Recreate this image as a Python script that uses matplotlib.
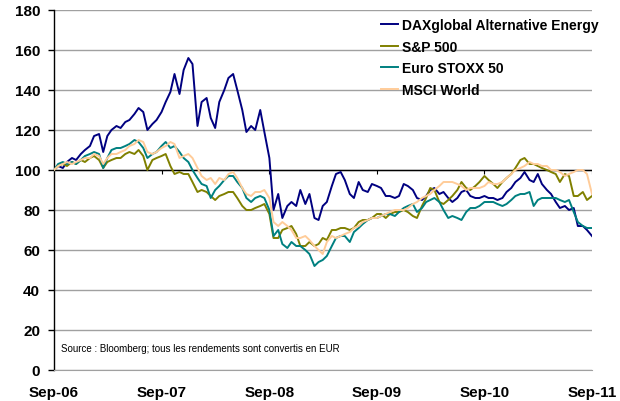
import matplotlib
matplotlib.use("Agg")
import matplotlib.pyplot as plt
import matplotlib.dates as mdates
import pandas as pd

plt.rcParams["font.family"] = ["Liberation Sans", "DejaVu Sans"]

# half-monthly index values (base 100, Sep-06)
dates = pd.date_range("2006-09-01", "2011-09-01", freq="SMS")

dax = [
    100, 102, 101, 104, 106, 105, 108, 110, 112, 117, 118, 109, 117, 120, 122, 121,
    124, 125, 128, 131, 129, 120, 123, 125, 129, 134, 139, 148, 138, 150, 156, 153,
    122, 134, 136, 126, 121, 134, 140, 146, 148, 140, 130, 119, 122, 120, 130, 119,
    106, 80, 88, 76, 82, 84, 82, 90, 83, 88, 76, 75, 82, 84, 92, 98,
    99, 95, 88, 86, 94, 90, 89, 93, 92, 91, 87, 87, 86, 87, 93, 92,
    90, 86, 85, 87, 90, 91, 88, 89, 86, 84, 86, 89, 90, 87, 86, 86,
    87, 86, 86, 85, 86, 89, 91, 94, 96, 99, 95, 94, 98, 93, 90, 88,
    84, 81, 82, 80, 81, 72, 72, 70, 67,
]
spx = [
    100, 102, 103, 102, 104, 103, 105, 104, 106, 107, 105, 101, 104, 105, 106, 106,
    108, 109, 108, 110, 107, 100, 105, 106, 107, 108, 102, 98, 99, 98, 98, 94,
    89, 90, 89, 87, 85, 87, 88, 89, 89, 86, 82, 80, 80, 81, 82, 83,
    78, 66, 66, 70, 71, 72, 68, 62, 62, 64, 62, 63, 66, 65, 70, 70,
    71, 71, 70, 71, 74, 75, 75, 76, 78, 78, 76, 78, 79, 79, 80, 79,
    77, 76, 82, 86, 91, 90, 84, 83, 85, 87, 90, 94, 91, 90, 92, 94,
    97, 95, 93, 91, 94, 96, 98, 101, 105, 106, 103, 103, 102, 101, 100, 99,
    98, 94, 98, 97, 87, 87, 89, 85, 87,
]
stoxx = [
    100, 103, 104, 103, 104, 103, 105, 107, 108, 109, 108, 101, 106, 110, 111, 111,
    112, 113, 115, 114, 111, 106, 108, 109, 112, 114, 111, 112, 109, 106, 104, 100,
    96, 93, 92, 86, 90, 92, 95, 97, 97, 94, 91, 86, 84, 86, 87, 86,
    80, 67, 70, 63, 61, 64, 62, 62, 60, 58, 52, 54, 55, 57, 62, 66,
    67, 67, 64, 69, 71, 73, 75, 76, 76, 77, 78, 78, 77, 79, 81, 82,
    83, 79, 81, 84, 85, 86, 84, 80, 76, 77, 76, 75, 79, 81, 81, 82,
    84, 84, 84, 83, 82, 83, 85, 87, 88, 88, 89, 82, 85, 86, 86, 86,
    86, 85, 84, 85, 79, 74, 72, 71, 71,
]
msci = [
    100, 102, 103, 104, 103, 104, 105, 106, 106, 108, 107, 103, 106, 108, 108, 109,
    110, 112, 113, 115, 114, 109, 108, 109, 111, 112, 114, 113, 106, 107, 108, 106,
    101, 97, 95, 96, 93, 96, 95, 98, 99, 96, 91, 88, 87, 89, 89, 90,
    86, 74, 72, 74, 72, 70, 66, 66, 67, 65, 62, 60, 58, 64, 67, 66,
    67, 68, 69, 71, 72, 74, 75, 76, 76, 77, 78, 79, 80, 80, 80, 81,
    83, 84, 86, 87, 88, 90, 92, 94, 94, 94, 93, 92, 90, 91, 91, 91,
    92, 94, 93, 93, 94, 96, 98, 100, 101, 102, 104, 103, 103, 102, 102, 100,
    100, 99, 97, 98, 99, 100, 100, 98, 88,
]

labels = ["DAXglobal Alternative Energy", "S&P 500", "Euro STOXX 50", "MSCI World"]
colours = ["#000080", "#808000", "#008080", "#FFCC99"]
yticks = list(range(0, 181, 20))
xticks = pd.to_datetime(["2006-09-01", "2007-09-01", "2008-09-01",
                         "2009-09-01", "2010-09-01", "2011-09-01"])

fig = plt.figure(figsize=(6.2, 4.02), dpi=100)
ax = fig.add_axes([54 / 620, 1 - 371 / 402, 538 / 620, 360 / 402])

for series, lab, col in zip([dax, spx, stoxx, msci], labels, colours):
    ax.plot(dates, series, color=col, lw=1.4, label=lab, zorder=3)

ax.set_ylim(0, 180)
ax.set_yticks(yticks)
ax.set_xlim(xticks[0], xticks[-1])
ax.set_xticks(xticks)
ax.xaxis.set_major_formatter(mdates.DateFormatter("%b-%y"))

ax.yaxis.grid(True, color="#A0A0A0", lw=1.0, zorder=0)
ax.set_axisbelow(True)

# the category axis crosses at 100
ax.axhline(100, color="black", lw=1.0, zorder=2)
ax.vlines(xticks[1:], 98, 100, color="black", lw=0.8, zorder=2)

for side in ("top", "right"):
    ax.spines[side].set_visible(False)
ax.spines["bottom"].set_color("#A0A0A0")
ax.spines["left"].set_color("black")
ax.spines["left"].set_linewidth(1.0)

ax.tick_params(axis="y", length=4, width=1, pad=6, labelsize=11)
ax.tick_params(axis="x", length=0, pad=11, labelsize=11)
for t in ax.get_xticklabels() + ax.get_yticklabels():
    t.set_fontweight("bold")

ax.legend(loc="upper left", bbox_to_anchor=(381 / 620, 1 - 19 / 402),
          bbox_transform=fig.transFigure, frameon=False, borderpad=0,
          borderaxespad=0, handlelength=1.25, handletextpad=0.25,
          labelspacing=0.55, prop={"weight": "bold", "size": 10})

fig.text(61 / 620, 1 - 349 / 402,
         "Source : Bloomberg; tous les rendements sont convertis en EUR",
         fontsize=7.0, va="center", ha="left")

fig.savefig("out.png", dpi=100)
